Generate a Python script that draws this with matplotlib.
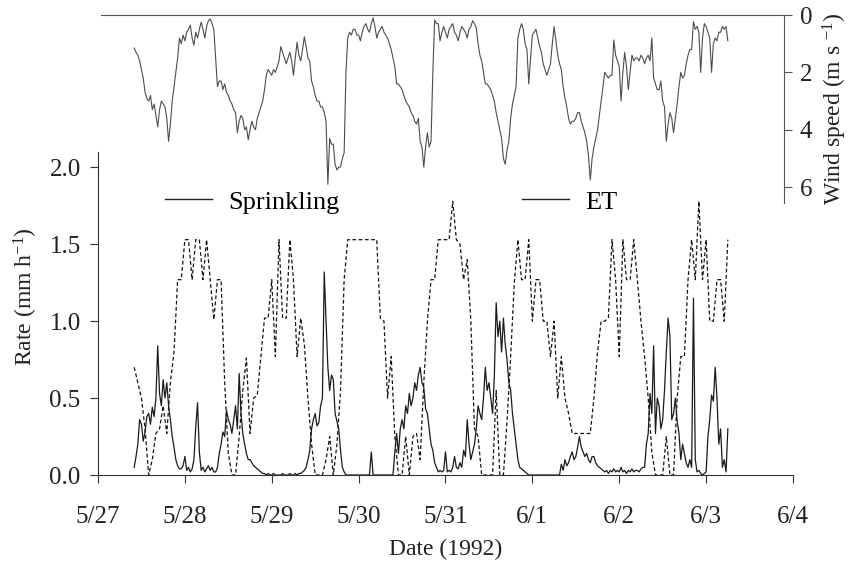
import numpy as np
import matplotlib
matplotlib.use("Agg")
import matplotlib.pyplot as plt
from matplotlib.lines import Line2D
from matplotlib.ticker import FormatStrFormatter

plt.rcParams['font.family'] = ['Liberation Serif', 'DejaVu Serif']
plt.rcParams['mathtext.fontset'] = 'custom'
plt.rcParams['mathtext.rm'] = 'Liberation Serif'
plt.rcParams['mathtext.default'] = 'regular'

# records start at 10:00 on 5/27; wind and ET every 30 min, sprinkling hourly
start_hour = 10

wind = [1.15, 1.3, 1.4, 1.6, 1.9, 2.2, 2.7, 2.9, 3.0, 2.8,
        3.3, 3.1, 3.5, 3.9, 3.3, 3.0, 3.1, 3.2, 3.6, 4.4,
        3.8, 3.0, 2.5, 2.0, 1.5, 0.8, 1.0, 0.7, 0.9, 0.6,
        0.5, 0.35, 0.8, 1.05, 0.6, 0.8, 0.5, 0.25, 0.5, 0.8,
        0.4, 0.2, 0.14, 0.3, 0.5, 1.5, 2.5, 2.3, 2.3, 2.6,
        2.4, 2.7, 2.8, 3.0, 3.1, 3.3, 3.4, 4.1, 3.7, 3.5,
        3.6, 4.0, 3.9, 4.35, 4.0, 3.7, 3.9, 4.0, 3.6, 3.4,
        3.2, 3.0, 2.6, 2.1, 1.9, 2.0, 2.1, 1.9, 2.0, 1.8,
        1.6, 1.1, 1.3, 1.5, 1.7, 1.5, 1.3, 1.6, 2.1, 1.5,
        0.95, 1.4, 1.6, 1.2, 0.76, 1.1, 1.5, 1.6, 2.3, 2.5,
        2.8, 3.0, 3.0, 3.2, 3.2, 3.4, 3.7, 5.9, 4.3, 4.5,
        4.5, 5.2, 5.4, 5.3, 5.3, 5.0, 4.8, 2.0, 0.8, 0.6,
        0.7, 0.5, 0.5, 0.7, 0.7, 0.9, 0.6, 0.4, 0.3, 0.5,
        0.6, 0.3, 0.1, 0.4, 0.8, 0.6, 0.5, 0.4, 0.6, 0.7,
        0.8, 1.0, 1.2, 1.5, 1.8, 2.4, 2.4, 2.5, 2.6, 2.8,
        3.0, 3.1, 3.2, 3.4, 3.5, 3.7, 3.8, 3.6, 4.4, 4.6,
        5.3, 4.6, 4.1, 4.6, 4.4, 2.0, 0.17, 0.3, 0.3, 0.9,
        0.6, 0.4, 0.6, 0.8, 0.5, 0.4, 0.3, 0.6, 0.7, 0.9,
        0.6, 0.4, 0.5, 0.6, 0.8, 0.5, 0.4, 0.2, 0.3, 0.45,
        1.0, 1.4, 1.6, 2.0, 2.4, 2.4, 2.5, 2.6, 2.8, 3.0,
        3.4, 3.7, 4.0, 4.3, 5.0, 5.2, 4.7, 4.4, 3.6, 3.1,
        2.8, 2.5, 0.8, 0.5, 0.3, 0.5, 1.0, 1.2, 2.4, 1.5,
        0.7, 0.6, 0.5, 0.8, 1.1, 1.3, 1.7, 1.9, 2.1, 1.9,
        1.7, 1.0, 0.4, 0.9, 1.4, 1.7, 1.9, 2.5, 2.9, 3.2,
        3.6, 3.8, 3.7, 3.7, 3.6, 3.4, 3.4, 3.7, 3.9, 4.1,
        4.4, 4.9, 5.75, 5.0, 4.6, 4.3, 4.0, 3.5, 3.0, 2.5,
        2.0, 2.1, 2.2, 2.1, 2.1, 0.87, 1.4, 1.6, 1.8, 3.0,
        2.0, 1.3, 1.8, 2.6, 2.0, 1.4, 1.6, 1.5, 1.5, 1.6,
        1.4, 1.5, 1.7, 1.5, 1.4, 1.6, 0.8, 2.2, 2.4, 2.6,
        2.6, 2.3, 3.0, 3.2, 4.4, 3.8, 3.4, 3.6, 4.1, 3.6,
        3.1, 2.5, 2.0, 2.2, 2.1, 1.7, 1.4, 1.2, 1.2, 0.23,
        0.5, 0.4, 0.6, 2.0, 0.8, 0.3, 0.4, 0.6, 0.8, 2.0,
        1.0, 0.8, 0.9, 0.6, 0.6, 0.4, 0.5, 0.4, 0.9]

et = [0.05, 0.12, 0.2, 0.36, 0.33, 0.22, 0.28, 0.38, 0.4, 0.33,
      0.44, 0.38, 0.5, 0.84, 0.53, 0.45, 0.62, 0.5, 0.6, 0.45,
      0.36, 0.25, 0.18, 0.1, 0.06, 0.04, 0.04, 0.06, 0.12, 0.03,
      0.05, 0.02, 0.04, 0.1, 0.31, 0.47, 0.15, 0.03, 0.05, 0.02,
      0.04, 0.06, 0.03, 0.05, 0.02, 0.02, 0.05, 0.14, 0.2, 0.28,
      0.25, 0.42, 0.36, 0.33, 0.27, 0.36, 0.45, 0.3, 0.66, 0.4,
      0.27, 0.2, 0.14, 0.1, 0.1, 0.08, 0.06, 0.05, 0.04, 0.03,
      0.02, 0.01, 0.01, 0.0, 0.01, 0.0, 0.0, 0.01, 0.0, 0.0,
      0.0, 0.0, 0.01, 0.0, 0.0, 0.0, 0.01, 0.0, 0.0, 0.01,
      0.0, 0.01, 0.01, 0.02, 0.03, 0.05, 0.1, 0.16, 0.3, 0.36,
      0.4, 0.32, 0.34, 0.45, 0.5, 1.32, 1.0, 0.7, 0.55, 0.65,
      0.62, 0.4, 0.35, 0.3, 0.16, 0.05, 0.02, 0.0, 0.0, 0.0,
      0.0, 0.0, 0.0, 0.0, 0.0, 0.0, 0.0, 0.0, 0.0, 0.0,
      0.0, 0.15, 0.0, 0.0, 0.0, 0.0, 0.0, 0.0, 0.0, 0.0,
      0.0, 0.0, 0.0, 0.0, 0.15, 0.27, 0.14, 0.3, 0.36, 0.3,
      0.45, 0.4, 0.53, 0.45, 0.5, 0.6, 0.55, 0.65, 0.7, 0.6,
      0.57, 0.43, 0.4, 0.3, 0.2, 0.16, 0.08, 0.05, 0.02, 0.03,
      0.02, 0.03, 0.15, 0.02, 0.03, 0.02, 0.05, 0.12, 0.05, 0.04,
      0.08, 0.05, 0.16, 0.12, 0.36, 0.2, 0.1, 0.15, 0.2, 0.3,
      0.45, 0.4, 0.36, 0.5, 0.7, 0.55, 0.6, 0.5, 0.4, 0.65,
      1.12, 0.9, 1.0, 0.8, 1.02, 0.85, 0.75, 0.6, 0.55, 0.4,
      0.3, 0.2, 0.1, 0.05, 0.04, 0.03, 0.02, 0.01, 0.0, 0.0,
      0.0, 0.0, 0.0, 0.0, 0.0, 0.0, 0.0, 0.0, 0.0, 0.0,
      0.0, 0.0, 0.0, 0.0, 0.0, 0.0, 0.07, 0.03, 0.1, 0.06,
      0.08, 0.12, 0.15, 0.1, 0.12, 0.18, 0.25, 0.18, 0.15, 0.12,
      0.14, 0.1, 0.08, 0.12, 0.12, 0.08, 0.06, 0.05, 0.04, 0.03,
      0.02, 0.03, 0.01, 0.03, 0.02, 0.04, 0.02, 0.03, 0.02, 0.05,
      0.02, 0.03, 0.01, 0.03, 0.02, 0.04, 0.02, 0.03, 0.03, 0.02,
      0.04, 0.05, 0.05, 0.2, 0.27, 0.53, 0.4, 0.84, 0.27, 0.5,
      0.45, 0.3, 0.36, 0.55, 0.8, 1.02, 0.9, 0.36, 0.4, 0.5,
      0.35, 0.27, 0.1, 0.2, 0.14, 0.08, 0.05, 0.1, 0.05, 1.15,
      0.1, 0.02, 0.03, 0.01, 0.0, 0.01, 0.02, 0.25, 0.36, 0.52,
      0.48, 0.7, 0.5, 0.2, 0.3, 0.05, 0.1, 0.02, 0.3]

sprinkling = [0.7, 0.6, 0.5, 0.3, 0.0, 0.1, 0.27, 0.3, 0.45, 0.27,
              0.6, 0.8, 1.27, 1.27, 1.53, 1.53, 1.27, 1.53, 1.53, 1.27,
              1.53, 1.27, 1.01, 1.27, 1.27, 0.6, 0.14, 0.0, 0.0, 0.25,
              0.55, 0.76, 0.27, 0.5, 0.52, 0.77, 1.02, 1.02, 1.27, 0.77,
              1.53, 1.02, 1.02, 1.53, 1.27, 0.77, 1.02, 0.85, 0.5, 0.2,
              0.0, 0.0, 0.0, 0.1, 0.25, 0.0, 0.2, 0.55, 1.27, 1.53,
              1.53, 1.53, 1.53, 1.53, 1.53, 1.53, 1.53, 1.53, 1.02, 1.0,
              0.5, 0.77, 0.25, 0.0, 0.0, 0.25, 0.0, 0.25, 0.27, 0.1,
              0.6, 1.0, 1.27, 1.27, 1.53, 1.53, 1.53, 1.53, 1.78, 1.53,
              1.5, 1.27, 1.4, 1.0, 0.3, 0.25, 0.0, 0.0, 0.0, 0.0,
              0.55, 0.0, 0.0, 0.35, 0.77, 1.25, 1.53, 1.27, 1.27, 1.53,
              1.0, 1.27, 1.27, 1.0, 1.0, 0.77, 1.0, 0.5, 0.77, 0.5,
              0.4, 0.27, 0.27, 0.27, 0.27, 0.27, 0.27, 0.5, 0.8, 1.0,
              1.0, 1.02, 1.53, 1.27, 0.77, 1.53, 1.27, 1.27, 1.53, 1.27,
              1.0, 0.77, 0.5, 0.15, 0.0, 0.0, 0.0, 0.25, 0.0, 0.0,
              0.5, 0.77, 0.77, 1.27, 1.53, 1.27, 1.78, 1.27, 1.53, 1.0,
              1.0, 1.27, 1.27, 1.0, 1.53]

date_labels = ['5/27', '5/28', '5/29', '5/30', '5/31', '6/1', '6/2', '6/3', '6/4']

ink = '#222222'
t_wind = (start_hour + 0.5 * np.arange(len(wind))) / 24.0
t_et = (start_hour + 0.5 * np.arange(len(et))) / 24.0
t_spr = (start_hour + np.arange(len(sprinkling))) / 24.0

W, H = 862.0, 565.0
fig = plt.figure(figsize=(W / 100, H / 100), dpi=100)
ax = fig.add_axes([98 / W, 1 - 475 / H, (793 - 98) / W, (475 - 152) / H])
ax2 = fig.add_axes([98 / W, 1 - 203 / H, (793 - 98) / W, (203 - 15) / H])
for a in (ax, ax2):
    a.patch.set_alpha(0)

# rate panel
ax.plot(t_spr, sprinkling, color='#111111', lw=0.9, ls=(0, (3, 2)))
ax.plot(t_et, et, color='#1a1a1a', lw=0.9)
ax.set_xlim(0, 8)
ax.set_ylim(0, 2.1)
ax.set_xticks(range(len(date_labels)))
ax.set_xticklabels(date_labels)
ax.set_yticks([0, 0.5, 1.0, 1.5, 2.0])
ax.yaxis.set_major_formatter(FormatStrFormatter('%.1f'))
for s in ('top', 'right'):
    ax.spines[s].set_visible(False)
for s in ('left', 'bottom'):
    ax.spines[s].set_color('#333333')
ax.tick_params(axis='x', direction='out', length=6, pad=16, labelsize=18,
               colors='#333333', labelcolor=ink)
ax.tick_params(axis='y', direction='out', length=6, pad=6.5, labelsize=18,
               colors='#333333', labelcolor=ink)
ax.set_xlabel('Date (1992)', fontsize=17, color=ink, labelpad=8)
ax.set_ylabel('Rate (mm h$^{-1}$)', fontsize=17, color=ink)
ax.yaxis.set_label_coords(-0.083, 0.551)

# wind panel
ax2.plot(t_wind, wind, color='#4d4d4d', lw=0.8)
ax2.set_xlim(0, 8)
ax2.set_ylim(6.55, 0)
ax2.set_xticks([])
ax2.spines['left'].set_visible(False)
ax2.spines['bottom'].set_visible(False)
ax2.spines['top'].set_bounds(0.03, 7.9)
ax2.spines['right'].set_position(('data', 7.9))
for s in ('top', 'right'):
    ax2.spines[s].set_color('#555555')
ax2.yaxis.tick_right()
ax2.yaxis.set_label_position('right')
ax2.set_yticks([0, 2, 4, 6])
ax2.tick_params(axis='y', direction='out', length=6, pad=5, labelsize=18,
                colors='#555555', labelcolor=ink)
ax2.set_ylabel('Wind speed (m s $^{-1}$)', fontsize=17, color=ink, labelpad=6)

handles = [Line2D([], [], color='#222222', lw=1.0),
           Line2D([], [], color='#222222', lw=1.0)]
ax.legend(handles, ['Sprinkling', 'ET'], ncol=2, frameon=False,
          fontsize=19, handlelength=1.8, handletextpad=0.6, columnspacing=6.9,
          borderpad=0, borderaxespad=0, loc='center left',
          bbox_to_anchor=(165 / W, 1 - 202 / H), bbox_transform=fig.transFigure)

fig.savefig('out.png', dpi=100)
